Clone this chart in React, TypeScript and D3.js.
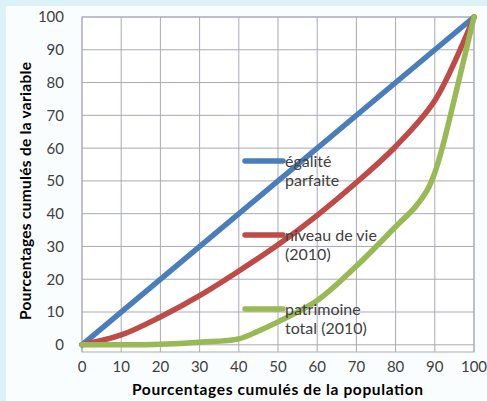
import * as d3 from 'd3';

// population cumulée (%) et parts cumulées
const equalityX = [0, 100];
const equalityY = [0, 100];

const incomeX = [0, 10, 20, 30, 40, 50, 60, 70, 80, 90, 100];
const incomeY = [0, 3, 8.5, 15, 22.5, 30.5, 39.5, 49.5, 60.5, 74.5, 100];

const wealthX = [0, 10, 20, 30, 40, 45, 50, 60, 70, 80, 85, 88, 90, 92, 95, 100];
const wealthY = [0, 0, 0.2, 0.8, 1.8, 4.2, 7, 13.5, 24, 36, 42, 47, 52.5, 60.5, 75, 100];

const xTicks = [0, 10, 20, 30, 40, 50, 60, 70, 80, 90, 100];
const yTicks = [0, 10, 20, 30, 40, 50, 60, 70, 80, 90, 100];

const seriesNames = [['égalité', 'parfaite'], ['niveau de vie', '(2010)'], ['patrimoine', 'total (2010)']];
const seriesColors = ['#4a7ebb', '#be4b48', '#98b954'];

const W = 487, H = 401;
const FONT = 'Lato, "Open Sans", sans-serif';

export default function App() {
  const x = d3.scaleLinear().domain([0, 100]).range([82, 474]);
  const y = d3.scaleLinear().domain([-2.2, 100]).range([352, 17]);

  const line = d3.line<[number, number]>()
    .x(d => x(d[0]))
    .y(d => y(d[1]))
    .curve(d3.curveCatmullRom.alpha(0.5));

  const series = [
    d3.zip(equalityX, equalityY) as [number, number][],
    d3.zip(incomeX, incomeY) as [number, number][],
    d3.zip(wealthX, wealthY) as [number, number][],
  ];

  const [x0, x1] = x.range();
  const [yb, yt] = y.range();

  // légende à l'intérieur du tracé
  const legendX = 245, legendY0 = 161, legendStep = 74;

  return (
    <svg width={W} height={H} style={{ position: 'absolute', left: 0, top: 0 }} fontFamily={FONT}>
      <rect x={0} y={0} width={W} height={H} fill="#dcf2f7" />
      <rect x={6} y={6} width={W - 6} height={H - 6} fill="#f9fdfe" />
      <rect x={x0} y={yt} width={x1 - x0} height={yb - yt} fill="#ffffff" />

      {/* grille */}
      {xTicks.map(t => (
        <line key={'gx' + t} x1={x(t)} x2={x(t)} y1={yt} y2={yb} stroke="#a9abb6" strokeWidth={1} />
      ))}
      {yTicks.map(t => (
        <line key={'gy' + t} x1={x0} x2={x1} y1={y(t)} y2={y(t)} stroke="#a9abb6" strokeWidth={1} />
      ))}
      <rect x={x0} y={yt} width={x1 - x0} height={yb - yt} fill="none" stroke="#a9abb6" strokeWidth={1} />

      {/* graduations */}
      {yTicks.map(t => (
        <text key={'ty' + t} x={64} y={y(t)} dy="0.36em" textAnchor="end" fontSize={15} fill="#404040">{t}</text>
      ))}
      {xTicks.map(t => (
        <text key={'tx' + t} x={x(t)} y={372} textAnchor="middle" fontSize={15} fill="#404040">{t}</text>
      ))}

      {/* courbes */}
      {series.map((s, i) => (
        <path key={'s' + i} d={line(s) || ''} fill="none" stroke={seriesColors[i]} strokeWidth={5.5} strokeLinecap="round" strokeLinejoin="round" />
      ))}

      {/* légende */}
      {seriesNames.map((names, i) => {
        const ly = legendY0 + i * legendStep;
        return (
          <g key={'l' + i}>
            <line x1={legendX} x2={legendX + 38} y1={ly} y2={ly} stroke={seriesColors[i]} strokeWidth={5.5} strokeLinecap="round" />
            {names.map((n, j) => (
              <text key={j} x={legendX + 40} y={ly + 6 + j * 19} fontSize={16} fill="#404040">{n}</text>
            ))}
          </g>
        );
      })}

      {/* titres des axes */}
      <text x={277.5} y={395} textAnchor="middle" fontSize={15.5} fontWeight="bold" fill="#000" textLength={291}>
        Pourcentages cumulés de la population
      </text>
      <text transform="translate(31,191) rotate(-90)" textAnchor="middle" fontSize={15.5} fontWeight="bold" fill="#000" textLength={258}>
        Pourcentages cumulés de la variable
      </text>
    </svg>
  );
}
